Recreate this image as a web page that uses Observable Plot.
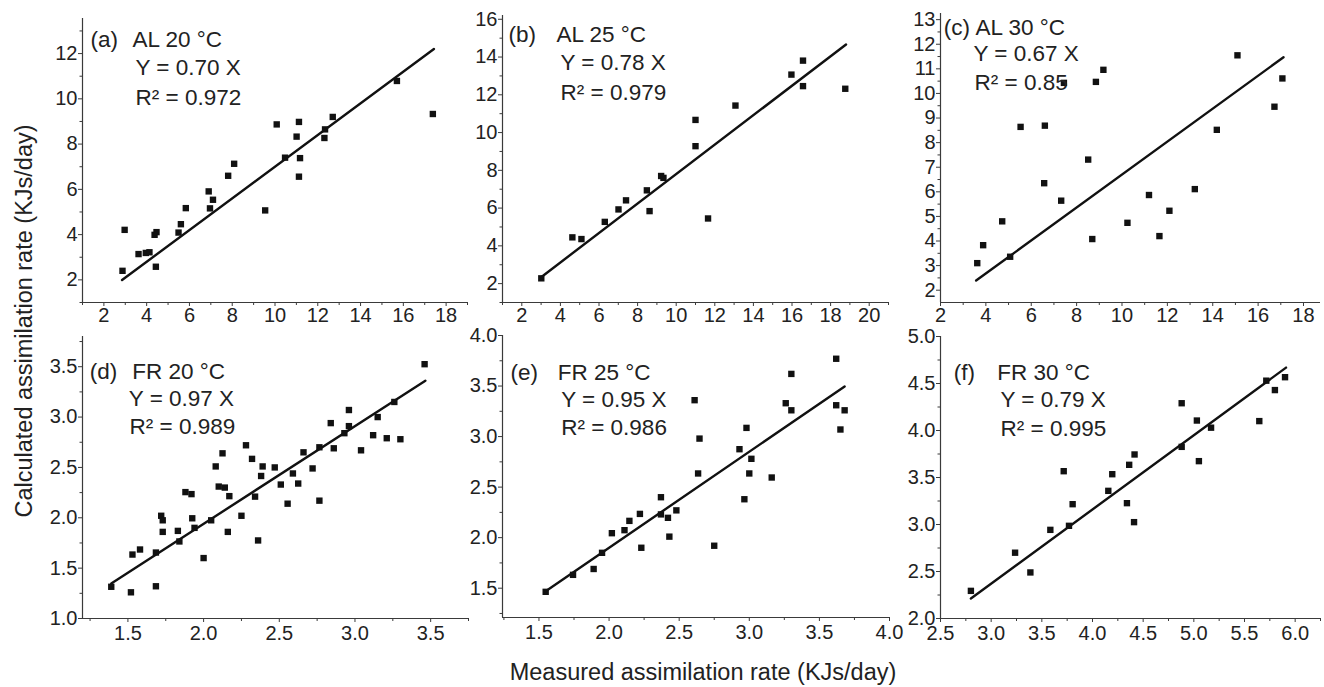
<!DOCTYPE html>
<html><head><meta charset="utf-8">
<script src="https://cdn.jsdelivr.net/npm/d3@7"></script>
<script src="https://cdn.jsdelivr.net/npm/@observablehq/plot@0.6"></script>
<style>
html,body{margin:0;padding:0;background:#fff;overflow:hidden}
#wrap{position:relative;width:1324px;height:687px;font-family:"Liberation Sans",Arial,Helvetica,sans-serif;color:#222;background:#fff}
.ytitle{position:absolute;left:24px;top:321px;transform:translate(-50%,-50%) rotate(-90deg);white-space:nowrap;font-size:23.5px}
.xtitle{position:absolute;left:703px;top:672px;transform:translate(-50%,-50%);white-space:nowrap;font-size:23.5px}
</style></head><body>
<div id="wrap">
<div class="ytitle">Calculated assimilation rate (KJs/day)</div>
<div class="xtitle">Measured assimilation rate (KJs/day)</div>
</div>
<script>
// ---- data ----
const aX = [2.87,2.97,3.62,3.96,4.13,4.37,4.46,4.43,5.49,5.60,5.83,6.90,6.96,7.10,7.81,8.09,9.54,10.08,10.47,11.01,11.12,11.17,11.12,12.31,12.34,12.70,15.70,17.38];
const aY = [2.40,4.21,3.14,3.19,3.22,3.99,4.11,2.58,4.09,4.46,5.17,5.91,5.16,5.54,6.60,7.13,5.07,8.87,7.40,8.33,8.98,7.38,6.56,8.27,8.65,9.20,10.79,9.33];
const bX = [3.01,4.62,5.09,6.30,7.01,7.40,8.48,8.62,9.22,9.34,11.0,11.0,11.65,13.07,15.97,16.57,16.57,18.76];
const bY = [2.28,4.45,4.36,5.27,5.93,6.41,6.94,5.84,7.70,7.60,9.28,10.67,5.45,11.43,13.07,13.81,12.46,12.32];
const cX = [3.62,3.88,4.72,5.07,5.53,6.57,6.60,7.32,7.44,8.51,8.69,8.85,9.18,10.24,11.19,11.65,12.09,13.21,14.18,15.09,16.72,17.07];
const cY = [3.10,3.83,4.80,3.36,8.64,6.35,8.69,5.64,10.43,7.31,4.08,10.47,10.96,4.74,5.87,4.20,5.23,6.11,8.52,11.55,9.46,10.61];
const dX = [1.39,1.52,1.53,1.58,1.685,1.685,1.72,1.73,1.73,1.83,1.84,1.88,1.92,1.925,1.94,2.00,2.05,2.08,2.10,2.125,2.14,2.16,2.17,2.25,2.28,2.32,2.34,2.36,2.38,2.39,2.47,2.51,2.555,2.59,2.625,2.66,2.72,2.765,2.765,2.84,2.86,2.93,2.96,2.96,3.04,3.12,3.15,3.21,3.26,3.30,3.46];
const dY = [1.315,1.26,1.635,1.685,1.32,1.655,2.02,1.975,1.86,1.87,1.765,2.255,2.235,1.995,1.90,1.60,1.975,2.51,2.31,2.64,2.30,1.86,2.215,2.02,2.72,2.585,2.21,1.775,2.415,2.51,2.50,2.33,2.14,2.44,2.34,2.65,2.49,2.17,2.70,2.94,2.69,2.84,3.07,2.91,2.67,2.82,3.00,2.79,3.15,2.78,3.525];
const eX = [1.548,1.743,1.89,1.95,2.02,2.11,2.145,2.22,2.23,2.37,2.37,2.42,2.43,2.48,2.61,2.635,2.645,2.75,2.93,2.965,2.98,3.00,3.015,3.16,3.26,3.30,3.30,3.62,3.62,3.65,3.68];
const eY = [1.464,1.632,1.69,1.85,2.044,2.074,2.166,2.235,1.90,2.40,2.23,2.196,2.01,2.27,3.36,2.635,2.98,1.92,2.875,2.38,3.086,2.635,2.78,2.595,3.33,3.62,3.26,3.31,3.77,3.07,3.26];
const fX = [2.80,3.236,3.387,3.584,3.716,3.768,3.804,4.156,4.195,4.34,4.362,4.41,4.415,4.88,4.88,5.03,5.05,5.17,5.646,5.715,5.80,5.90];
const fY = [2.294,2.70,2.49,2.943,3.567,2.986,3.216,3.358,3.535,3.227,3.635,3.025,3.745,4.29,3.826,4.106,3.674,4.03,4.10,4.53,4.43,4.567];

const panelTags = ["(a)","(b)","(c)","(d)","(e)","(f)"];
const panelNames = ["AL 20 °C","AL 25 °C","AL 30 °C","FR 20 °C","FR 25 °C","FR 30 °C"];
const slopes = [0.70,0.78,0.67,0.97,0.95,0.79];
const r2Values = ["0.972","0.979","0.85","0.989","0.986","0.995"];
const fitStart = [2.85,3.0,3.57,1.39,1.54,2.80];
const fitEnd = [17.43,18.8,17.12,3.465,3.68,5.91];

const xDomains = [[1,19],[1,21],[2,18.75],[1.2,3.75],[1.24,4.0],[2.5,6.25]];
const yDomains = [[1,13.55],[1,16.2],[1.5,13.25],[1,3.8],[1.21,4.0],[2,5]];
const xMajor = [d3.range(2,19,2), d3.range(2,21,2), d3.range(2,19,2), [1.5,2,2.5,3,3.5], [1.5,2,2.5,3,3.5,4], [2.5,3,3.5,4,4.5,5,5.5,6]];
const xMinor = [d3.range(1,20,2), d3.range(1,22,2), d3.range(3,18,2), [1.25,1.75,2.25,2.75,3.25,3.75], [1.25,1.75,2.25,2.75,3.25,3.75], [2.75,3.25,3.75,4.25,4.75,5.25,5.75,6.25]];
const yMajor = [d3.range(2,13,2), d3.range(2,17,2), d3.range(2,14,1), [1,1.5,2,2.5,3,3.5], [1.5,2,2.5,3,3.5,4], [2,2.5,3,3.5,4,4.5,5]];
const yMinor = [d3.range(1,14,2), d3.range(1,16,2), d3.range(2.5,13,1), [1.25,1.75,2.25,2.75,3.25,3.75], [1.25,1.75,2.25,2.75,3.25,3.75], [2.25,2.75,3.25,3.75,4.25,4.75]];
const tickFormats = [d3.format("d"), d3.format("d"), d3.format("d"), d3.format(".1f"), d3.format(".1f"), d3.format(".1f")];

// ---- layout ----
const frames = [
  {L:82,R:467,T:18,B:302},{L:502,R:888,T:15,B:302},{L:940,R:1320,T:13,B:302},
  {L:82,R:468,T:336,B:618},{L:502,R:889,T:335,B:617},{L:940,R:1320,T:336,B:618}];
const xPad = [1,1,1,3,3,3];
const textPos = [
  {tag:8, name:50, eq:53, r2:53, t:12.7, e:40.3, r:70.3},
  {tag:6, name:54, eq:58, r2:58, t:11, e:39, r:68.3},
  {tag:3.3, name:35, eq:33, r2:34, t:5.7, e:31.3, r:61},
  {tag:7.3, name:49.7, eq:46.3, r2:47, t:26.3, e:53.7, r:81.7},
  {tag:8, name:55.3, eq:58.7, r2:58.7, t:28.3, e:55.7, r:84},
  {tag:13.3, name:56.7, eq:60, r2:60, t:27.7, e:55, r:83.3}];

const allX = [aX,bX,cX,dX,eX,fX];
const allY = [aY,bY,cY,dY,eY,fY];
const ML = 60, MR = 4, MT = 10, MB = 40;
const wrap = document.getElementById("wrap");
const axisColor = "#3a3a3a";
const font = '"Liberation Sans", Arial, Helvetica, sans-serif';

for (let i = 0; i < 6; i++) {
  const f = frames[i], tp = textPos[i];
  const pts = allX[i].map((x, k) => ({x, y: allY[i][k]}));
  const fit = [fitStart[i], fitEnd[i]].map(x => ({x, y: slopes[i] * x}));
  const txt = (s, dx, dy) => Plot.text([s], {frameAnchor: "top-left", dx, dy, text: d => d, textAnchor: "start", fontSize: 22.5, fill: "#222"});
  const svg = Plot.plot({
    width: ML + (f.R - f.L) + MR,
    height: MT + (f.B - f.T) + MB,
    marginLeft: ML, marginRight: MR, marginTop: MT, marginBottom: MB,
    x: {domain: xDomains[i]},
    y: {domain: yDomains[i]},
    style: {fontFamily: font, fontSize: "20px", color: "#222", background: "transparent", overflow: "visible"},
    marks: [
      Plot.axisX(xMinor[i], {tickSize: 3, tickFormat: () => "", label: null, stroke: axisColor}),
      Plot.axisX(xMajor[i], {tickSize: 4, tickPadding: xPad[i], tickFormat: tickFormats[i], label: null, stroke: axisColor, fill: "#222", fontSize: 20}),
      Plot.axisY(yMinor[i], {tickSize: 2.5, tickFormat: () => "", label: null, stroke: axisColor}),
      Plot.axisY(yMajor[i], {tickSize: 4, tickPadding: 1, tickFormat: tickFormats[i], label: null, stroke: axisColor, fill: "#222", fontSize: 20}),
      Plot.ruleX([xDomains[i][0]], {stroke: axisColor, strokeWidth: 1.2}),
      Plot.ruleY([yDomains[i][0]], {stroke: axisColor, strokeWidth: 1.2}),
      Plot.line(fit, {x: "x", y: "y", stroke: "#111", strokeWidth: 2.4}),
      Plot.dot(pts, {x: "x", y: "y", symbol: "square", r: 3.6, fill: "#111"}),
      txt(panelTags[i], tp.tag, tp.t),
      txt(panelNames[i], tp.name, tp.t),
      txt(`Y = ${slopes[i].toFixed(2)} X`, tp.eq, tp.e),
      txt(`R² = ${r2Values[i]}`, tp.r2, tp.r)
    ]
  });
  svg.style.position = "absolute";
  svg.style.left = (f.L - ML) + "px";
  svg.style.top = (f.T - MT) + "px";
  wrap.appendChild(svg);
}
</script>
</body></html>
